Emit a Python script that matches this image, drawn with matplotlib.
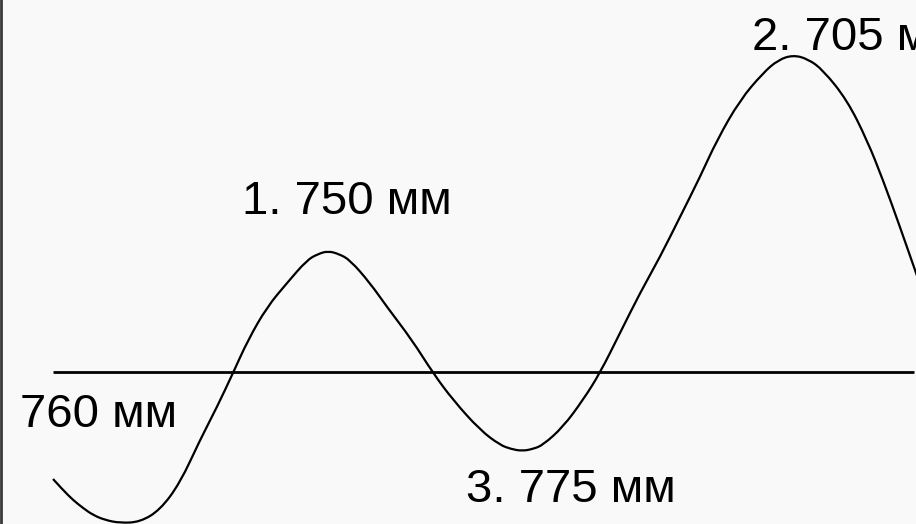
import matplotlib
matplotlib.use("Agg")
import matplotlib.pyplot as plt
from matplotlib.path import Path
from matplotlib.patches import PathPatch

# Curve (x, y in picture units, y grows downward)
curve_x = [53, 63, 73, 83, 93, 105, 120, 140, 160, 180, 200, 217, 233, 248, 267, 287, 307, 318, 328, 339,
           350, 370, 387, 412, 433, 453, 480, 500, 511, 522, 533, 543, 563, 583, 600, 620, 640, 660, 680,
           700, 717, 740, 763, 778, 793, 808, 823, 847, 867, 883, 900, 916, 925]
curve_y = [479, 490, 500, 508, 515, 520, 523, 522, 510, 483, 440, 407, 373, 340, 307, 283, 260, 254, 251, 254,
           260, 283, 307, 340, 373, 400, 430, 445, 449, 451, 449, 445, 427, 400, 373, 333, 293, 257, 217,
           177, 140, 100, 73, 60, 55, 59, 70, 100, 140, 180, 227, 273, 298]

# Reference level line (760 мм)
level_x = [53, 914]
level_y = [372, 372]

labels = ["760 мм", "1. 750 мм", "2. 705 мм", "3. 775 мм"]
label_x = [20, 242, 752, 466]
label_y = [427, 214, 50, 502]

fig = plt.figure(figsize=(9.16, 5.24), dpi=100)
fig.patch.set_facecolor("#f9f9f9")
ax = fig.add_axes([0, 0, 1, 1])
ax.set_facecolor("#f9f9f9")
ax.set_xlim(0, 916)
ax.set_ylim(524, 0)
ax.axis("off")

# smooth rendering of the traced points with quadratic Bezier segments
pts = list(zip(curve_x, curve_y))
verts = [pts[0]]
codes = [Path.MOVETO]
for i in range(1, len(pts) - 1):
    mx = (pts[i][0] + pts[i + 1][0]) / 2
    my = (pts[i][1] + pts[i + 1][1]) / 2
    verts += [pts[i], (mx, my)]
    codes += [Path.CURVE3, Path.CURVE3]
verts.append(pts[-1])
codes.append(Path.LINETO)
ax.add_patch(PathPatch(Path(verts, codes), fill=False, edgecolor="black", lw=1.6))

ax.plot(level_x, level_y, color="black", lw=2.0, solid_capstyle="butt")

# left border of the slide
ax.plot([1, 1], [0, 524], color="#3a3a3a", lw=2.0)

for t, x, y in zip(labels, label_x, label_y):
    ax.text(x, y, t, fontsize=34, family=["Liberation Sans", "DejaVu Sans"],
            ha="left", va="baseline", color="black", clip_on=False)

fig.savefig("out.png", dpi=100, facecolor=fig.get_facecolor())
